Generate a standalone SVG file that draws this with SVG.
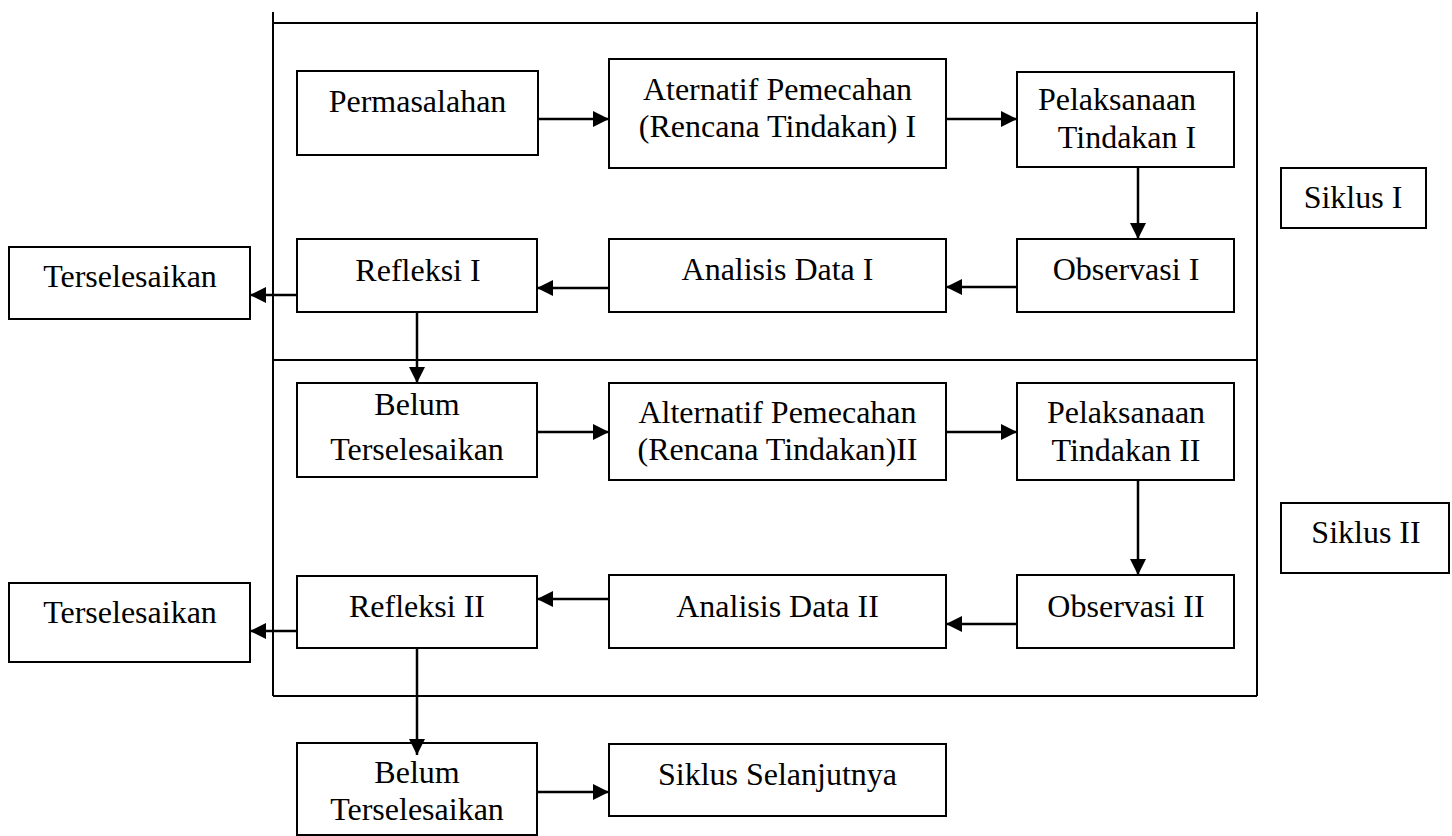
<svg xmlns="http://www.w3.org/2000/svg" width="1452" height="836" viewBox="0 0 1452 836">
<defs>
<style>
.box{fill:#fff;stroke:#000;stroke-width:2}
.frame{fill:none;stroke:#000;stroke-width:2}
.t{font-family:"Liberation Serif","Times New Roman",serif;font-size:32px;fill:#000;text-anchor:middle}
.c{fill:none;stroke:#000;stroke-width:2.5;marker-end:url(#ah)}
</style>
<marker id="ah" markerUnits="userSpaceOnUse" markerWidth="16" markerHeight="16" refX="16" refY="8" orient="auto">
<path d="M0,0 L16,8 L0,16 z" fill="#000"/>
</marker>
</defs>
<rect width="1452" height="836" fill="#fff"/>
<g id="frame">
<line class="frame" x1="273" y1="12" x2="273" y2="696"/>
<line class="frame" x1="1257" y1="12" x2="1257" y2="696"/>
<line class="frame" x1="273" y1="23" x2="1257" y2="23"/>
<line class="frame" x1="273" y1="360" x2="1257" y2="360"/>
<line class="frame" x1="273" y1="696" x2="1257" y2="696"/>
</g>
<g id="permasalahan"><rect class="box" x="297" y="71" width="241" height="84"/><text class="t" x="417.5" y="112">Permasalahan</text></g>
<g id="aternatif1"><rect class="box" x="609" y="59" width="337" height="109"/><text class="t" x="777.5" y="100">Aternatif Pemecahan</text><text class="t" x="777.5" y="137">(Rencana Tindakan) I</text></g>
<g id="pelaksanaan1"><rect class="box" x="1017" y="72" width="217" height="95"/><text class="t" x="1117" y="110">Pelaksanaan</text><text class="t" x="1127" y="148">Tindakan I</text></g>
<g id="observasi1"><rect class="box" x="1017" y="239" width="217" height="73"/><text class="t" x="1126" y="280">Observasi I</text></g>
<g id="analisis1"><rect class="box" x="609" y="239" width="337" height="73"/><text class="t" x="777.5" y="280">Analisis Data I</text></g>
<g id="refleksi1"><rect class="box" x="297" y="239" width="240" height="73"/><text class="t" x="418" y="281">Refleksi I</text></g>
<g id="terselesaikan1"><rect class="box" x="9" y="247" width="241" height="72"/><text class="t" x="130" y="287">Terselesaikan</text></g>
<g id="siklus1"><rect class="box" x="1281" y="168" width="145" height="60"/><text class="t" x="1353" y="208">Siklus I</text></g>
<g id="belum1"><rect class="box" x="297" y="383" width="240" height="94"/><text class="t" x="417" y="415">Belum</text><text class="t" x="417" y="460">Terselesaikan</text></g>
<g id="alternatif2"><rect class="box" x="609" y="383" width="337" height="97"/><text class="t" x="777.5" y="423">Alternatif Pemecahan</text><text class="t" x="777.5" y="460">(Rencana Tindakan)II</text></g>
<g id="pelaksanaan2"><rect class="box" x="1017" y="383" width="217" height="97"/><text class="t" x="1126" y="423">Pelaksanaan</text><text class="t" x="1126" y="461">Tindakan II</text></g>
<g id="observasi2"><rect class="box" x="1017" y="575" width="217" height="73"/><text class="t" x="1126" y="617">Observasi II</text></g>
<g id="analisis2"><rect class="box" x="609" y="575" width="337" height="73"/><text class="t" x="777.5" y="617">Analisis Data II</text></g>
<g id="refleksi2"><rect class="box" x="297" y="576" width="240" height="72"/><text class="t" x="417" y="617">Refleksi II</text></g>
<g id="terselesaikan2"><rect class="box" x="9" y="583" width="241" height="79"/><text class="t" x="130" y="623">Terselesaikan</text></g>
<g id="siklus2"><rect class="box" x="1281" y="503" width="168" height="70"/><text class="t" x="1366" y="543">Siklus II</text></g>
<g id="belum2"><rect class="box" x="297" y="743" width="240" height="92"/><text class="t" x="417" y="783">Belum</text><text class="t" x="417" y="820">Terselesaikan</text></g>
<g id="siklusSelanjutnya"><rect class="box" x="609" y="744" width="337" height="72"/><text class="t" x="777.5" y="785">Siklus Selanjutnya</text></g>
<g id="connectors">
<line class="c" x1="538" y1="119" x2="609" y2="119"/>
<line class="c" x1="946" y1="119" x2="1017" y2="119"/>
<line class="c" x1="1138" y1="167" x2="1138" y2="239"/>
<line class="c" x1="1017" y1="287" x2="946" y2="287"/>
<line class="c" x1="609" y1="288" x2="537" y2="288"/>
<line class="c" x1="297" y1="295" x2="250" y2="295"/>
<line class="c" x1="417" y1="312" x2="417" y2="383"/>
<line class="c" x1="537" y1="432" x2="609" y2="432"/>
<line class="c" x1="946" y1="432" x2="1017" y2="432"/>
<line class="c" x1="1138" y1="480" x2="1138" y2="575"/>
<line class="c" x1="1017" y1="624" x2="946" y2="624"/>
<line class="c" x1="609" y1="599" x2="537" y2="599"/>
<line class="c" x1="297" y1="631" x2="250" y2="631"/>
<line class="c" x1="417" y1="648" x2="417" y2="755"/>
<line class="c" x1="537" y1="792" x2="609" y2="792"/>
</g>
</svg>
